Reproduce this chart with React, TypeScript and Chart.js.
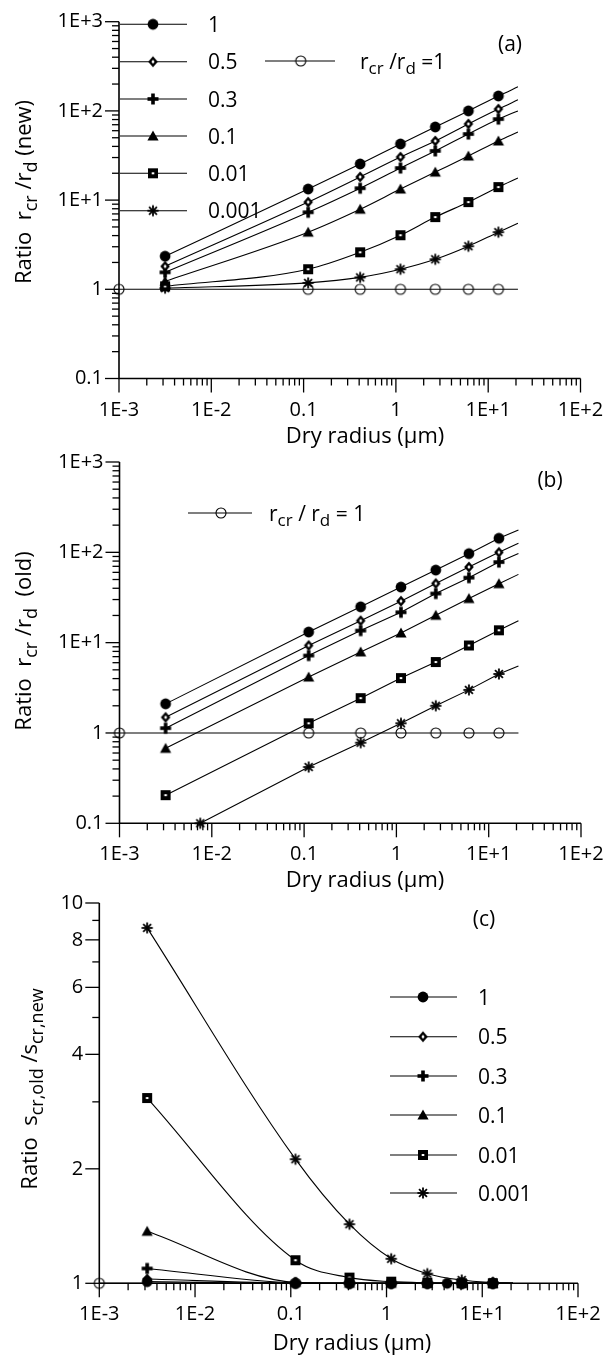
import React, { useEffect, useRef } from 'react';
import { Chart, registerables } from 'chart.js';

Chart.register(...registerables);

const W = 603;
const H = 1359;
const FONT = '"Open Sans", "Noto Sans", "DejaVu Sans", sans-serif';

// Dry radii (µm); the last entry is where each curve stops (no marker there)
const radii = [0.00316, 0.112, 0.41, 1.12, 2.67, 6.1, 12.9, 21];
const unityRadii = [0.001, 0.112, 0.41, 1.12, 2.67, 6.1, 12.9, 21];
const unityRatio = [1, 1, 1, 1, 1, 1, 1, 1];

const seriesLabels = ['1', '0.5', '0.3', '0.1', '0.01', '0.001'];

// (a) r_cr / r_d with the new scheme
const newRatio1 = [2.35, 13.3, 25.4, 42.6, 66, 100, 147, 186];
const newRatio05 = [1.81, 9.5, 18.2, 30.4, 46, 71.5, 105, 133];
const newRatio03 = [1.55, 7.3, 13.6, 22.9, 35.6, 55, 81, 100];
const newRatio01 = [1.23, 4.37, 7.9, 13.3, 20.6, 31.2, 46, 58];
const newRatio001 = [1.08, 1.68, 2.6, 4.04, 6.45, 9.5, 14, 17.7];
const newRatio0001 = [1.03, 1.18, 1.36, 1.68, 2.17, 3.04, 4.37, 5.5];

// (b) r_cr / r_d with the old scheme
const oldRatio1 = [2.1, 13.1, 24.9, 41.2, 63.6, 96.7, 143, 177];
const oldRatio05 = [1.49, 9.3, 17.5, 28.8, 45.2, 68.7, 100, 126];
const oldRatio03 = [1.13, 7.2, 13.6, 21.7, 35, 52.4, 78, 97];
const oldRatio01 = [0.676, 4.16, 7.9, 12.8, 20.1, 30.8, 45, 57];
const oldRatio001 = [0.205, 1.28, 2.43, 4.05, 6.1, 9.3, 13.7, 17.5];
const oldRadii0001 = [0.0075, 0.112, 0.41, 1.12, 2.67, 6.1, 12.9, 21];
const oldRatio0001 = [0.1, 0.42, 0.78, 1.28, 2.0, 3.0, 4.5, 5.5];

// (c) s_cr,old / s_cr,new
const sRadii1 = [0.00316, 0.112, 0.41, 1.12, 2.67, 4.3, 6.1, 12.9, 21];
const sRatio1 = [1.01, 1.0, 1.0, 1.0, 1.0, 1.0, 1.0, 1.0, 1.0];
const sRatio05 = [1.026, 1.001, 1.0, 1.0, 1.0, 1.0, 1.0, 1.0];
const sRatio03 = [1.094, 1.003, 1.0, 1.0, 1.0, 1.0, 1.0, 1.0];
const sRatio01 = [1.37, 1.006, 1.001, 1.0, 1.0, 1.0, 1.0, 1.0];
const sRatio001 = [3.07, 1.15, 1.035, 1.01, 1.003, 1.001, 1.0, 1.0];
const sRatio0001 = [8.6, 2.12, 1.43, 1.16, 1.06, 1.02, 1.005, 1.0];

// Axis ticks
const xDecades = [1e-3, 1e-2, 1e-1, 1, 10, 100];
const xTickText = ['1E-3', '1E-2', '0.1', '1', '1E+1', '1E+2'];
const yDecades = [0.1, 1, 10, 100, 1000];
const yTickText = ['0.1', '1', '1E+1', '1E+2', '1E+3'];
const yMajorC = [1, 2, 4, 6, 8, 10];
const yTickTextC = ['1', '2', '4', '6', '8', '10'];
const yMinorC = [3, 5, 7, 9];

const minorsOf = (decades: number[]) =>
  decades.slice(0, -1).flatMap((d) => [2, 3, 4, 5, 6, 7, 8, 9].map((k) => k * d));

type Run = { t: string; sub?: boolean };
type Area = { left: number; right: number; top: number; bottom: number };
type LegendItem = { marker: HTMLCanvasElement; x1: number; x2: number; mx: number; y: number; tx: number; runs: Run[] };

type FrameCfg = {
  key: string;
  xMajor: number[];
  xMinor: number[];
  xLabels: string[];
  yMajor: number[];
  yMinor: number[];
  yLabels: string[];
  xTitle: { x: number; y: number };
  yTitle: { x: number; y: number; runs: Run[] };
  legend: LegendItem[];
  tag: { text: string; x: number; y: number };
};

const TICK_FONT = 20;
const TITLE_FONT = 22;
const LEGEND_FONT = 21;

function makeMarker(kind: string): HTMLCanvasElement {
  const c = document.createElement('canvas');
  c.width = 18;
  c.height = 18;
  const g = c.getContext('2d')!;
  g.translate(9, 9);
  g.fillStyle = '#000';
  g.strokeStyle = '#000';
  if (kind === 'circle') {
    g.beginPath();
    g.arc(0, 0, 5.4, 0, Math.PI * 2);
    g.fill();
  } else if (kind === 'diamond') {
    g.beginPath();
    g.moveTo(0, -5.6);
    g.lineTo(4.8, 0);
    g.lineTo(0, 5.6);
    g.lineTo(-4.8, 0);
    g.closePath();
    g.fill();
    g.fillStyle = '#fff';
    g.beginPath();
    g.moveTo(0, -1.9);
    g.lineTo(1.6, 0);
    g.lineTo(0, 1.9);
    g.lineTo(-1.6, 0);
    g.closePath();
    g.fill();
  } else if (kind === 'plus') {
    g.fillRect(-5.5, -1.8, 11, 3.6);
    g.fillRect(-1.8, -5.5, 3.6, 11);
  } else if (kind === 'triangle') {
    g.beginPath();
    g.moveTo(0, -5.6);
    g.lineTo(5.6, 4.4);
    g.lineTo(-5.6, 4.4);
    g.closePath();
    g.fill();
  } else if (kind === 'square') {
    g.fillRect(-5, -5, 10, 10);
    g.fillStyle = '#fff';
    g.fillRect(-1.3, -1, 2.6, 2);
  } else if (kind === 'star') {
    g.lineWidth = 1.8;
    for (let k = 0; k < 4; k++) {
      const a = (k * Math.PI) / 4;
      g.beginPath();
      g.moveTo(-5.6 * Math.cos(a), -5.6 * Math.sin(a));
      g.lineTo(5.6 * Math.cos(a), 5.6 * Math.sin(a));
      g.stroke();
    }
  } else if (kind === 'open') {
    g.lineWidth = 1.1;
    g.beginPath();
    g.arc(0, 0, 5, 0, Math.PI * 2);
    g.stroke();
  }
  return c;
}

function runsWidth(ctx: CanvasRenderingContext2D, runs: Run[], size: number) {
  let w = 0;
  for (const r of runs) {
    ctx.font = `${r.sub ? Math.round(size * 0.8) : size}px ${FONT}`;
    w += ctx.measureText(r.t).width;
  }
  return w;
}

function drawRuns(ctx: CanvasRenderingContext2D, runs: Run[], x: number, y: number, size: number) {
  let cx = x;
  for (const r of runs) {
    ctx.font = `${r.sub ? Math.round(size * 0.8) : size}px ${FONT}`;
    ctx.fillText(r.t, cx, r.sub ? y + size * 0.28 : y);
    cx += ctx.measureText(r.t).width;
  }
}

function framePlugin(cfg: FrameCfg) {
  return {
    id: 'frame' + cfg.key,
    beforeDatasetsDraw(chart: any) {
      const { ctx, chartArea: a, scales } = chart;
      const xs = scales.x;
      const ys = scales.y;
      const seg = (x1: number, y1: number, x2: number, y2: number) => {
        ctx.beginPath();
        ctx.moveTo(x1, y1);
        ctx.lineTo(x2, y2);
        ctx.stroke();
      };
      ctx.save();
      ctx.strokeStyle = '#000';
      ctx.lineWidth = 1.6;
      ctx.beginPath();
      ctx.moveTo(a.left, a.top);
      ctx.lineTo(a.left, a.bottom);
      ctx.lineTo(a.right, a.bottom);
      ctx.stroke();
      ctx.lineWidth = 1.3;
      for (const v of cfg.xMajor) {
        const p = xs.getPixelForValue(v);
        seg(p, a.bottom, p, a.bottom + 14);
      }
      for (const v of cfg.xMinor) {
        const p = xs.getPixelForValue(v);
        seg(p, a.bottom, p, a.bottom + 7);
      }
      for (const v of cfg.yMajor) {
        const p = ys.getPixelForValue(v);
        seg(a.left - 14, p, a.left, p);
      }
      for (const v of cfg.yMinor) {
        const p = ys.getPixelForValue(v);
        seg(a.left - 7, p, a.left, p);
      }
      ctx.fillStyle = '#000';
      ctx.font = `${TICK_FONT}px ${FONT}`;
      ctx.textAlign = 'center';
      ctx.textBaseline = 'alphabetic';
      cfg.xMajor.forEach((v, i) => ctx.fillText(cfg.xLabels[i], xs.getPixelForValue(v), a.bottom + 37));
      ctx.textAlign = 'right';
      ctx.textBaseline = 'middle';
      cfg.yMajor.forEach((v, i) => ctx.fillText(cfg.yLabels[i], a.left - 16, ys.getPixelForValue(v)));
      ctx.restore();
    },
    afterDraw(chart: any) {
      const { ctx } = chart;
      ctx.save();
      ctx.fillStyle = '#000';
      ctx.strokeStyle = '#000';
      ctx.textAlign = 'left';
      ctx.textBaseline = 'alphabetic';

      // x-axis title
      ctx.font = `${TITLE_FONT}px ${FONT}`;
      ctx.textAlign = 'center';
      ctx.fillText('Dry radius (\u03bcm)', cfg.xTitle.x, cfg.xTitle.y);
      ctx.textAlign = 'left';

      // rotated y-axis title with subscripts
      const tw = runsWidth(ctx, cfg.yTitle.runs, TITLE_FONT);
      ctx.save();
      ctx.translate(cfg.yTitle.x, cfg.yTitle.y);
      ctx.rotate(-Math.PI / 2);
      drawRuns(ctx, cfg.yTitle.runs, -tw / 2, 0, TITLE_FONT);
      ctx.restore();

      // legend entries
      ctx.lineWidth = 1.1;
      for (const it of cfg.legend) {
        ctx.beginPath();
        ctx.moveTo(it.x1, it.y);
        ctx.lineTo(it.x2, it.y);
        ctx.stroke();
        ctx.drawImage(it.marker, it.mx - 9, it.y - 9);
        drawRuns(ctx, it.runs, it.tx, it.y + 7.5, LEGEND_FONT);
      }

      // panel tag
      ctx.font = `${LEGEND_FONT}px ${FONT}`;
      ctx.textAlign = 'center';
      ctx.fillText(cfg.tag.text, cfg.tag.x, cfg.tag.y);
      ctx.restore();
    },
  };
}

function curve(xs: number[], ys: number[], marker: HTMLCanvasElement, smooth: boolean) {
  return {
    data: xs.map((x, i) => ({ x, y: ys[i] })),
    borderColor: '#000',
    borderWidth: 1.1,
    pointStyle: marker,
    pointRadius: (c: any) => (c.dataIndex === xs.length - 1 ? 0 : 5),
    cubicInterpolationMode: smooth ? 'monotone' : 'default',
    tension: 0,
    clip: false,
  };
}

function buildChart(
  canvas: HTMLCanvasElement,
  datasets: any[],
  area: Area,
  yRange: [number, number],
  frame: FrameCfg
) {
  return new Chart(canvas, {
    type: 'line',
    data: { datasets },
    options: {
      animation: false,
      responsive: false,
      events: [],
      layout: {
        padding: { left: area.left, top: area.top, right: W - area.right, bottom: H - area.bottom },
      },
      scales: {
        x: { type: 'logarithmic', display: false, min: 1e-3, max: 100 },
        y: { type: 'logarithmic', display: false, min: yRange[0], max: yRange[1] },
      },
      plugins: { legend: { display: false }, tooltip: { enabled: false } },
    },
    plugins: [framePlugin(frame)],
  } as any);
}

const ratioTitle = (tail: string): Run[] => [
  { t: 'Ratio  r' },
  { t: 'cr', sub: true },
  { t: ' /r' },
  { t: 'd', sub: true },
  { t: tail },
];

export default function App() {
  const refA = useRef<HTMLCanvasElement>(null);
  const refB = useRef<HTMLCanvasElement>(null);
  const refC = useRef<HTMLCanvasElement>(null);

  useEffect(() => {
    const mk = {
      circle: makeMarker('circle'),
      diamond: makeMarker('diamond'),
      plus: makeMarker('plus'),
      triangle: makeMarker('triangle'),
      square: makeMarker('square'),
      star: makeMarker('star'),
      open: makeMarker('open'),
    };
    const seriesMarkers = [mk.circle, mk.diamond, mk.plus, mk.triangle, mk.square, mk.star];

    const xMinor = minorsOf(xDecades);
    const yMinor = minorsOf(yDecades);

    const legendRows = (ys: number[], x1: number, x2: number, mx: number, tx: number): LegendItem[] =>
      seriesLabels.map((lab, i) => ({ marker: seriesMarkers[i], x1, x2, mx, y: ys[i], tx, runs: [{ t: lab }] }));

    // (a)
    const chartA = buildChart(
      refA.current!,
      [
        curve(radii, newRatio1, mk.circle, true),
        curve(radii, newRatio05, mk.diamond, true),
        curve(radii, newRatio03, mk.plus, true),
        curve(radii, newRatio01, mk.triangle, true),
        curve(radii, newRatio001, mk.square, true),
        curve(radii, newRatio0001, mk.star, true),
        curve(unityRadii, unityRatio, mk.open, false),
      ],
      { left: 119, right: 580.5, top: 21.7, bottom: 378.5 },
      [0.1, 1000],
      {
        key: 'A',
        xMajor: xDecades,
        xMinor,
        xLabels: xTickText,
        yMajor: yDecades,
        yMinor,
        yLabels: yTickText,
        xTitle: { x: 365, y: 443 },
        yTitle: { x: 31, y: 192, runs: ratioTitle(' (new)') },
        legend: [
          ...legendRows([24.3, 61.7, 99, 136, 173.3, 210.7], 120, 187, 153, 208),
          {
            marker: mk.open,
            x1: 265,
            x2: 335,
            mx: 300.7,
            y: 61,
            tx: 360,
            runs: [{ t: 'r' }, { t: 'cr', sub: true }, { t: ' /r' }, { t: 'd', sub: true }, { t: ' =1' }],
          },
        ],
        tag: { text: '(a)', x: 510, y: 51 },
      }
    );

    // (b)
    const chartB = buildChart(
      refB.current!,
      [
        curve(radii, oldRatio1, mk.circle, false),
        curve(radii, oldRatio05, mk.diamond, false),
        curve(radii, oldRatio03, mk.plus, false),
        curve(radii, oldRatio01, mk.triangle, false),
        curve(radii, oldRatio001, mk.square, false),
        curve(oldRadii0001, oldRatio0001, mk.star, false),
        curve(unityRadii, unityRatio, mk.open, false),
      ],
      { left: 119.5, right: 581, top: 462, bottom: 823.3 },
      [0.1, 1000],
      {
        key: 'B',
        xMajor: xDecades,
        xMinor,
        xLabels: xTickText,
        yMajor: yDecades,
        yMinor,
        yLabels: yTickText,
        xTitle: { x: 365, y: 887 },
        yTitle: { x: 31, y: 641, runs: ratioTitle('  (old)') },
        legend: [
          {
            marker: mk.open,
            x1: 188,
            x2: 252,
            mx: 221,
            y: 513,
            tx: 269,
            runs: [{ t: 'r' }, { t: 'cr', sub: true }, { t: ' / r' }, { t: 'd', sub: true }, { t: ' = 1' }],
          },
        ],
        tag: { text: '(b)', x: 550, y: 487 },
      }
    );

    // (c)
    const chartC = buildChart(
      refC.current!,
      [
        curve(sRadii1, sRatio1, mk.circle, true),
        curve(radii, sRatio05, mk.diamond, true),
        curve(radii, sRatio03, mk.plus, true),
        curve(radii, sRatio01, mk.triangle, true),
        curve(radii, sRatio001, mk.square, true),
        curve(radii, sRatio0001, mk.star, true),
        curve(unityRadii, unityRatio, mk.open, false),
      ],
      { left: 99.3, right: 578, top: 903, bottom: 1283.3 },
      [1, 10],
      {
        key: 'C',
        xMajor: xDecades,
        xMinor,
        xLabels: xTickText,
        yMajor: yMajorC,
        yMinor: yMinorC,
        yLabels: yTickTextC,
        xTitle: { x: 352, y: 1350 },
        yTitle: {
          x: 37,
          y: 1089,
          runs: [{ t: 'Ratio  s' }, { t: 'cr,old', sub: true }, { t: ' /s' }, { t: 'cr,new', sub: true }],
        },
        legend: legendRows([997, 1036.7, 1076, 1115, 1155, 1193], 390, 457, 423, 478),
        tag: { text: '(c)', x: 484, y: 926 },
      }
    );

    return () => {
      chartA.destroy();
      chartB.destroy();
      chartC.destroy();
    };
  }, []);

  const layer: React.CSSProperties = { position: 'absolute', left: 0, top: 0, display: 'block' };
  return (
    <div style={{ position: 'absolute', left: 0, top: 0, width: W, height: H, background: '#fff', overflow: 'hidden' }}>
      <canvas ref={refA} width={W} height={H} style={layer} />
      <canvas ref={refB} width={W} height={H} style={layer} />
      <canvas ref={refC} width={W} height={H} style={layer} />
    </div>
  );
}
